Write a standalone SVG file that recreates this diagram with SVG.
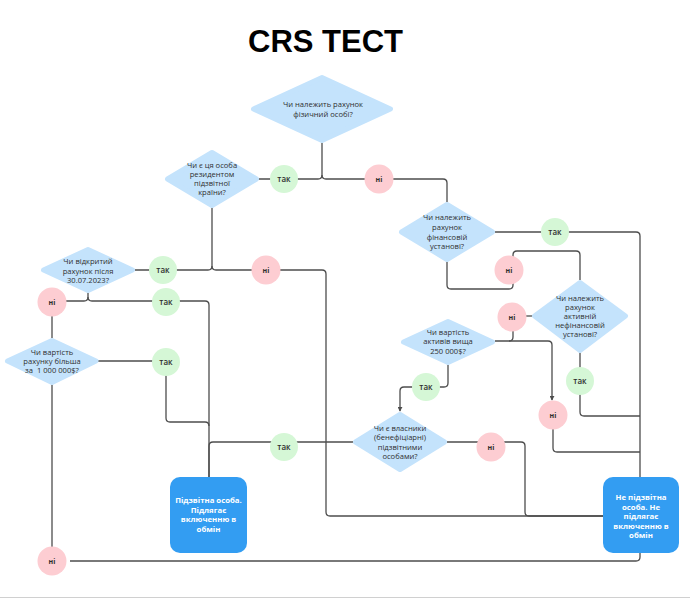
<svg xmlns="http://www.w3.org/2000/svg" width="690" height="601" viewBox="0 0 690 601">
<style>
.bg{fill:#ffffff}
.dia{fill:#c4e3fc;stroke:#c4e3fc;stroke-width:5;stroke-linejoin:round}
.yes{fill:#d5f7d6}
.no{fill:#fdcdd2}
.box{fill:#339df2}
.ln{fill:none;stroke:#4d4d4d;stroke-width:1.3}
.dt{font-family:"Open Sans","DejaVu Sans",sans-serif;font-size:7.6px;fill:#2f2f2f;text-anchor:middle}
.ct{font-family:"Open Sans","DejaVu Sans",sans-serif;font-size:8px;fill:#2f2f2f;text-anchor:middle;font-weight:600}
.nt{font-family:"Open Sans","DejaVu Sans",sans-serif;font-size:7px;fill:#2f2f2f;text-anchor:middle;font-weight:700}
.bt{font-family:"Open Sans","DejaVu Sans",sans-serif;font-size:7.8px;fill:#ffffff;text-anchor:middle;font-weight:700}
.title{font-family:"Liberation Sans",Arial,sans-serif;font-size:31px;font-weight:700;fill:#000}
</style>
<defs>
<marker id="arr" viewBox="0 0 6 6" refX="5" refY="3" markerWidth="5" markerHeight="5" orient="auto" markerUnits="userSpaceOnUse">
<path d="M0,0 L6,3 L0,6 z" fill="#4d4d4d"/>
</marker>
</defs>
<rect class="bg" x="0" y="0" width="690" height="601"/>
<line x1="0" y1="597.5" x2="690" y2="597.5" stroke="#d0d0d0" stroke-width="1"/>
<text class="title" x="248" y="52">CRS TECT</text>

<g id="connectors">
<path class="ln" d="M322,143 V175 Q322,179 318,179 H258"/>
<path class="ln" d="M322,175 Q322,179 326,179 H443 Q447,179 447,183 V202"/>
<path class="ln" d="M495,232 H636 Q640,232 640,236 V477"/>
<path class="ln" d="M447,262 V285 Q447,289 451,289 H509 Q513,289 513,285 V255 Q513,251 517,251 H576 Q580,251 580,255 V280"/>
<path class="ln" d="M533,316 H512"/>
<path class="ln" d="M513,326 V337 Q513,341 509,341"/>
<path class="ln" d="M495,341 H548 Q552,341 552,345 V400" marker-end="url(#arr)"/>
<path class="ln" d="M553,429 V448 Q553,452 557,452 H640"/>
<path class="ln" d="M580,353 V412 Q580,416 584,416 H640"/>
<path class="ln" d="M448,365 V383 Q448,387 444,387 H404 Q400,387 400,391 V411" marker-end="url(#arr)"/>
<path class="ln" d="M447,442 H521 Q525,442 525,446 V512 Q525,516 529,516 H603"/>
<path class="ln" d="M353,442 H213 Q209,442 209,446 V477"/>
<path class="ln" d="M212,208 V266 Q212,270 208,270 H135"/>
<path class="ln" d="M212,266 Q212,270 216,270 H322 Q326,270 326,274 V512 Q326,516 330,516 H603"/>
<path class="ln" d="M88,293 V297 Q88,301 84,301 H52"/>
<path class="ln" d="M88,297 Q88,301 92,301 H205 Q209,301 209,305 V477"/>
<path class="ln" d="M52,316 V338"/>
<path class="ln" d="M98,361 H166 V418 Q166,422 170,422 H205 Q209,422 209,426"/>
<path class="ln" d="M52,385 V547"/>
<path class="ln" d="M70,561 H636 Q640,561 640,557 V553"/>
</g>

<g id="d1">
<polygon class="dia" points="322,77.5 390.5,109 322,140.5 253.5,109"/>
<text class="dt" x="323" y="107">Чи належить рахунок</text>
<text class="dt" x="323" y="117">фізичний особі?</text>
</g>
<g id="d2">
<polygon class="dia" points="212,152.5 256.5,179 212,205.5 167.5,179"/>
<text class="dt" x="212" y="168">Чи є ця особа</text>
<text class="dt" x="212" y="177">резидентом</text>
<text class="dt" x="212" y="186">підзвітної</text>
<text class="dt" x="212" y="195">країни?</text>
</g>
<g id="d3">
<polygon class="dia" points="447,204.5 492.5,232 447,259.5 401.5,232"/>
<text class="dt" x="447" y="220">Чи належить</text>
<text class="dt" x="447" y="230">рахунок</text>
<text class="dt" x="447" y="240">фінансовій</text>
<text class="dt" x="447" y="249">установі?</text>
</g>
<g id="d4">
<polygon class="dia" points="580,282.5 625.5,316 580,350.5 534.5,316"/>
<text class="dt" x="580" y="301">Чи належить</text>
<text class="dt" x="580" y="310">рахунок</text>
<text class="dt" x="580" y="319">активній</text>
<text class="dt" x="580" y="328">нефінансовій</text>
<text class="dt" x="580" y="337">установі?</text>
</g>
<g id="d5">
<polygon class="dia" points="448,321.5 492.5,342 448,362.5 403.5,342"/>
<text class="dt" x="448" y="335">Чи вартість</text>
<text class="dt" x="448" y="344">активів вища</text>
<text class="dt" x="448" y="354">250 000$?</text>
</g>
<g id="d6">
<polygon class="dia" points="400,414.5 444.5,442 400,469.5 355.5,442"/>
<text class="dt" x="400" y="431">Чи є власники</text>
<text class="dt" x="400" y="440">(бенефіціарні)</text>
<text class="dt" x="400" y="450">підзвітними</text>
<text class="dt" x="400" y="459">особами?</text>
</g>
<g id="d7">
<polygon class="dia" points="88,249.5 132.5,270 88,290.5 43.5,270"/>
<text class="dt" x="88" y="264">Чи відкритий</text>
<text class="dt" x="88" y="274">рахунок після</text>
<text class="dt" x="88" y="283">30.07.2023?</text>
</g>
<g id="d8">
<polygon class="dia" points="52,340.5 96,361 52,382.5 7.5,361"/>
<text class="dt" x="52" y="355">Чи вартість</text>
<text class="dt" x="52" y="364">рахунку більша</text>
<text class="dt" x="52" y="373" xml:space="preserve">за  1 000 000$?</text>
</g>

<g id="box-yes">
<rect class="box" x="170" y="477" width="77" height="76" rx="10"/>
<text class="bt" x="208.5" y="503">Підзвітна особа.</text>
<text class="bt" x="208.5" y="512.5">Підлягає</text>
<text class="bt" x="208.5" y="522">включенню в</text>
<text class="bt" x="208.5" y="531.5">обмін</text>
</g>
<g id="box-no">
<rect class="box" x="603" y="477" width="76" height="76" rx="10"/>
<text class="bt" x="641" y="500">Не підзвітна</text>
<text class="bt" x="641" y="509.5">особа. Не</text>
<text class="bt" x="641" y="519">підлягає</text>
<text class="bt" x="641" y="528.5">включенню в</text>
<text class="bt" x="641" y="538">обмін</text>
</g>

<g id="yes1"><circle class="yes" cx="284" cy="179" r="14"/><text class="ct" x="284" y="182">так</text></g>
<g id="yes2"><circle class="yes" cx="555" cy="232" r="14"/><text class="ct" x="555" y="235">так</text></g>
<g id="yes3"><circle class="yes" cx="163" cy="270" r="14"/><text class="ct" x="163" y="273">так</text></g>
<g id="yes4"><circle class="yes" cx="166" cy="302" r="14"/><text class="ct" x="166" y="305">так</text></g>
<g id="yes5"><circle class="yes" cx="166" cy="362" r="14"/><text class="ct" x="166" y="365">так</text></g>
<g id="yes6"><circle class="yes" cx="580" cy="381" r="14"/><text class="ct" x="580" y="384">так</text></g>
<g id="yes7"><circle class="yes" cx="426" cy="387" r="14"/><text class="ct" x="426" y="390">так</text></g>
<g id="yes8"><circle class="yes" cx="284" cy="447" r="14"/><text class="ct" x="284" y="450">так</text></g>

<g id="no1"><circle class="no" cx="379" cy="179" r="14.5"/><text class="nt" x="379" y="181.5">ні</text></g>
<g id="no2"><circle class="no" cx="509" cy="270" r="14.5"/><text class="nt" x="509" y="272.5">ні</text></g>
<g id="no3"><circle class="no" cx="266" cy="270" r="14.5"/><text class="nt" x="266" y="272.5">ні</text></g>
<g id="no4"><circle class="no" cx="52" cy="302" r="14.5"/><text class="nt" x="52" y="304.5">ні</text></g>
<g id="no5"><circle class="no" cx="512" cy="317" r="14.5"/><text class="nt" x="512" y="319.5">ні</text></g>
<g id="no6"><circle class="no" cx="553" cy="415" r="14.5"/><text class="nt" x="553" y="417.5">ні</text></g>
<g id="no7"><circle class="no" cx="491" cy="447" r="14.5"/><text class="nt" x="491" y="449.5">ні</text></g>
<g id="no8"><circle class="no" cx="52" cy="561" r="14.5"/><text class="nt" x="52" y="563.5">ні</text></g>
</svg>
